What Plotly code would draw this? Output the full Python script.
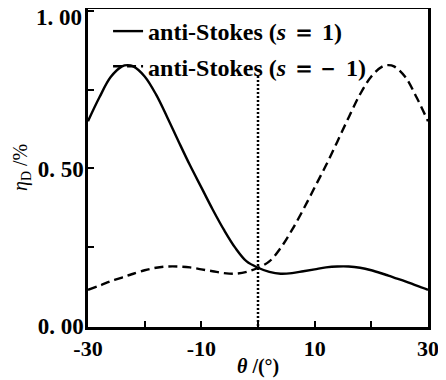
import plotly.graph_objects as go

theta = [-30, -28, -26, -24, -23, -22, -20, -18, -16, -14, -12, -10, -8, -6, -4, -2,
         0, 2, 4, 6, 8, 10, 12, 14, 16, 18, 20, 22, 23, 24, 26, 28, 30]
eta_s_pos = [0.650, 0.725, 0.790, 0.824, 0.828, 0.824, 0.792, 0.735, 0.662, 0.585,
             0.510, 0.440, 0.370, 0.305, 0.248, 0.205, 0.185, 0.172, 0.166, 0.168,
             0.174, 0.180, 0.186, 0.189, 0.189, 0.185, 0.177, 0.166, 0.160, 0.154,
             0.142, 0.128, 0.115]
eta_s_neg = list(reversed(eta_s_pos))
marker_x = [0, 0]
marker_y = [0.0, 0.80]

x_tickvals = [-30, -10, 10, 30]
x_ticktext = ["<b>-30</b>", "<b>-10</b>", "<b>10</b>", "<b>30</b>"]
x_minor_vals = [-20, 0, 20]
y_tickvals = [0.0, 0.5]
y_ticktext = ["<b>0. 00</b>", "<b>0. 50</b>"]
y_top_value = 1.0
y_top_text = "<b>1. 00</b>"

font_family = "Liberation Serif"

fig = go.Figure()
fig.add_trace(go.Scatter(x=theta, y=eta_s_pos, mode="lines",
                         line=dict(color="black", width=2.4, shape="spline"),
                         name="<b>anti-Stokes (<i>s</i> ＝ 1)</b>", legendgroup="a"))
fig.add_trace(go.Scatter(x=theta, y=eta_s_neg, mode="lines",
                         line=dict(color="black", width=2.4, dash="9px,5px", shape="spline"),
                         name="<b>anti-Stokes (<i>s</i> ＝－ 1)</b>", legendgroup="b"))
fig.add_trace(go.Scatter(x=marker_x, y=marker_y, mode="lines",
                         line=dict(color="black", width=2.5, dash="2px,2px"),
                         showlegend=False))

fig.update_layout(
    width=446, height=380,
    margin=dict(l=80, r=26, t=1, b=61),
    paper_bgcolor="white", plot_bgcolor="white",
    font=dict(family=font_family, color="black", size=20),
    legend=dict(x=0.059, y=1.0, xanchor="left", yanchor="top", bgcolor="rgba(0,0,0,0)",
                font=dict(size=24, family=font_family, color="black"), itemwidth=30,
                traceorder="grouped", tracegroupgap=1),
    showlegend=True,
    annotations=[
        dict(text="<b><i>θ</i> /(°)</b>", x=0.5, y=-0.123, xref="paper", yref="paper",
             xanchor="center", yanchor="middle", showarrow=False,
             font=dict(size=20, family=font_family, color="black")),
        dict(text="<i>η</i><sub>D</sub> /%", x=-0.197, y=0.5, xref="paper", yref="paper",
             xanchor="center", yanchor="middle", showarrow=False, textangle=-90,
             font=dict(size=20, family=font_family, color="black")),
        dict(text=y_top_text, x=0, xref="paper", y=y_top_value, yref="y",
             xanchor="right", yanchor="middle", xshift=-4, yshift=-7, showarrow=False,
             font=dict(size=23, family=font_family, color="black")),
    ],
)
fig.update_xaxes(range=[-30, 30], tickvals=x_tickvals, ticktext=x_ticktext,
                 ticks="inside", ticklen=6, tickwidth=2, tickcolor="black",
                 minor=dict(tickmode="array", tickvals=x_minor_vals, ticks="inside",
                            ticklen=6, tickwidth=2, tickcolor="black"),
                 showline=True, linewidth=2.5, linecolor="black", mirror=True,
                 showgrid=False, zeroline=False, automargin=False,
                 ticklabeloverflow="allow",
                 tickfont=dict(size=22, family=font_family, color="black"))
fig.update_yaxes(range=[-0.003, 1.006], tickvals=y_tickvals, ticktext=y_ticktext,
                 ticks="inside", ticklen=6, tickwidth=2, tickcolor="black",
                 minor=dict(dtick=0.25, tick0=0, ticks="inside", ticklen=6, tickwidth=2,
                            tickcolor="black"),
                 showline=True, linewidth=2.5, linecolor="black", mirror=True,
                 showgrid=False, zeroline=False, automargin=False,
                 ticklabelstandoff=-3, ticklabeloverflow="allow",
                 tickfont=dict(size=23, family=font_family, color="black"))

fig.write_html("out.html")
